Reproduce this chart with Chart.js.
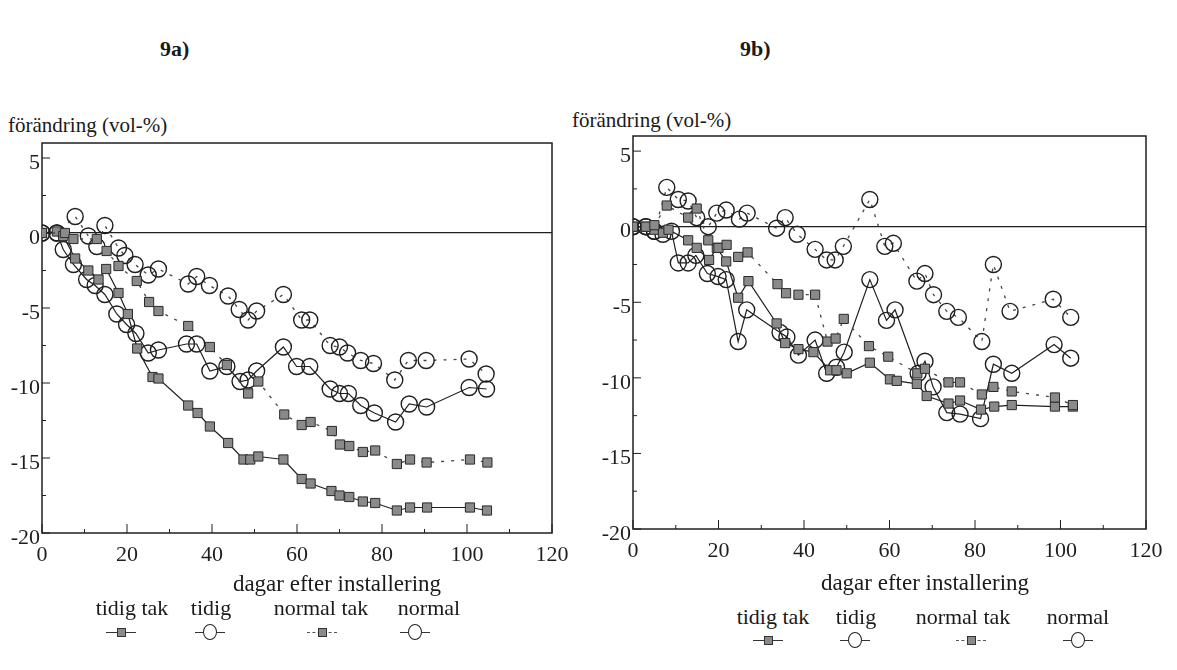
<!DOCTYPE html>
<html>
<head>
<meta charset="utf-8">
<script src="https://cdn.jsdelivr.net/npm/chart.js@4.4.1/dist/chart.umd.min.js"></script>
<style>
  body { margin:0; width:1177px; height:670px; overflow:hidden; position:relative; background:#fff;
         font-family:"Liberation Serif","DejaVu Serif","Noto Serif",Tinos,"Times New Roman",Times,serif; color:#1a1a1a; }
  .t { position:absolute; white-space:nowrap; line-height:1; }
  .c { transform:translateX(-50%); }
  canvas { position:absolute; }
  .sym { position:absolute; width:30px; height:16px; transform:translate(-50%,-50%); }
  .sym .ln { position:absolute; left:0; right:0; top:8px; border-top:1px solid #333; }
  .sym .ln.dash { border-top:1px dashed #555; }
  .sym .sq { position:absolute; left:11px; top:4px; width:7px; height:7px; background:#8a8a8a; border:1px solid #333; }
  .sym .ci { position:absolute; left:8px; top:0; width:12px; height:14px; border:1.3px solid #222; border-radius:50%; background:#fff; }
</style>
</head>
<body>

<div class="t" style="left:160px;top:38px;font-size:22px;font-weight:bold;">9a)</div>
<div class="t" style="left:740px;top:38px;font-size:22px;font-weight:bold;">9b)</div>

<div class="t" style="left:8px;top:115px;font-size:21px;">förändring (vol-%)</div>
<div class="t" style="left:572px;top:110px;font-size:21px;">förändring (vol-%)</div>

<canvas id="chart-9a" width="580" height="460" style="left:0;top:120px;"></canvas>
<canvas id="chart-9b" width="577" height="460" style="left:600px;top:115px;"></canvas>

<div class="t c" style="left:337px;top:572px;font-size:23px;">dagar efter installering</div>
<div class="t c" style="left:925px;top:571px;font-size:23px;">dagar efter installering</div>

<div id="legend"></div>

<script>
// ---- axlar ----
const xTicks = [0, 10, 20, 30, 40, 50, 60, 70, 80, 90, 100, 110, 120];
const yTicks = [-20, -17.5, -15, -12.5, -10, -7.5, -5, -2.5, 0, 2.5, 5];
const seriesNames = ['tidig tak', 'tidig', 'normal tak', 'normal'];

// ---- 9a ----
const aTidigTakDag = [0, 3.5, 5, 7.8, 10.9, 13.3, 15.1, 18, 20.2, 22.4, 26, 27.4, 34.4, 36.6, 39.5, 43.8, 47.4, 49, 50.9, 56.8, 61.1, 63.2, 68.1, 70, 72.3, 75.5, 78.4, 83.5, 86.6, 90.6, 100.7, 104.7];
const aTidigTakVal = [0, 0.1, -0.2, -1.7, -2.5, -3.1, -2.4, -4.0, -5.4, -7.7, -9.6, -9.7, -11.5, -12.0, -12.9, -14.0, -15.1, -15.1, -14.9, -15.1, -16.4, -16.7, -17.2, -17.5, -17.6, -17.9, -18.0, -18.5, -18.3, -18.3, -18.3, -18.5];

const aTidigDag = [0, 3.5, 5, 7.4, 10.5, 12.5, 14.8, 17.6, 19.9, 22.1, 25, 27.4, 34, 36.4, 39.5, 43.5, 46.6, 48.5, 50.5, 56.8, 59.9, 63, 67.8, 70, 72.1, 75, 78.2, 83.2, 86.4, 90.5, 100.5, 104.6];
const aTidigVal = [0, 0, -1.1, -2.1, -3.1, -3.5, -4.1, -5.4, -6.1, -6.7, -8.0, -7.8, -7.4, -7.4, -9.2, -8.9, -9.9, -9.8, -9.2, -7.6, -8.9, -8.9, -10.4, -10.7, -10.7, -11.5, -12.0, -12.6, -11.4, -11.6, -10.3, -10.4];

const aNormalTakDag = [0, 5.4, 7.4, 12.9, 15.2, 18, 22.3, 25.2, 27.4, 34.4, 39.5, 43.5, 48.5, 50.9, 57, 61.1, 63.2, 68.2, 70.1, 72.3, 75.5, 78.4, 83.5, 86.6, 90.5, 100.7, 104.8];
const aNormalTakVal = [0, 0, -0.4, -0.4, -1.2, -2.2, -3.2, -4.6, -5.2, -6.2, -7.6, -8.8, -10.7, -9.9, -12.1, -12.8, -12.6, -13.2, -14.1, -14.2, -14.6, -14.5, -15.4, -15.1, -15.3, -15.1, -15.3];

const aNormalDag = [0, 3.5, 7.8, 10.9, 12.9, 14.8, 18, 19.5, 21.9, 25, 27.4, 34.4, 36.4, 39.4, 43.8, 46.4, 48.5, 50.5, 56.8, 61.1, 63, 67.8, 70, 71.9, 75, 78, 83, 86.2, 90.4, 100.5, 104.5];
const aNormalVal = [0, 0, 1.1, -0.2, -0.9, 0.5, -1.0, -1.5, -2.1, -2.8, -2.4, -3.4, -2.9, -3.5, -4.2, -5.1, -5.8, -5.2, -4.1, -5.8, -5.8, -7.5, -7.6, -8.0, -8.5, -8.7, -9.8, -8.5, -8.5, -8.4, -9.4];

// ---- 9b ----
const bTidigTakDag = [0, 3, 5, 7, 8.3, 12.9, 14.9, 17.8, 19.6, 21.8, 24.6, 27, 33.6, 35.6, 38.7, 42.2, 46.1, 47.6, 50, 55.4, 60.1, 61.7, 66.4, 68.7, 73.8, 76.5, 81.4, 84.5, 88.6, 98.7, 102.9];
const bTidigTakVal = [0, 0, -0.2, -0.4, -0.2, -0.9, -1.4, -2.2, -1.4, -2.3, -4.7, -3.6, -6.4, -7.7, -8.1, -8.3, -9.5, -9.5, -9.7, -9.0, -10.1, -10.2, -10.4, -11.2, -11.7, -11.5, -12.1, -11.9, -11.8, -11.9, -11.9];

const bTidigDag = [0, 3, 5, 7, 9, 10.6, 12.9, 14.7, 17.4, 19.9, 21.8, 24.6, 26.6, 34.4, 36, 38.7, 42.6, 45.3, 47.6, 49.4, 55.4, 59.3, 61.3, 66.7, 68.3, 70.2, 73.4, 76.5, 81.3, 84.3, 88.6, 98.5, 102.4];
const bTidigVal = [0, 0, -0.3, -0.5, -0.3, -2.4, -2.4, -1.9, -3.1, -3.3, -3.5, -7.6, -5.5, -7.0, -7.3, -8.5, -7.5, -9.7, -9.3, -8.3, -3.5, -6.2, -5.5, -9.7, -8.9, -10.6, -12.3, -12.4, -12.7, -9.1, -9.7, -7.8, -8.7];

const bNormalTakDag = [0, 3, 5, 7.9, 12.9, 14.9, 17.6, 20, 21.9, 24.6, 26.8, 33.8, 35.8, 38.7, 42.6, 45.5, 47.4, 49.3, 55.2, 59.7, 66.5, 68.3, 73.8, 76.5, 81.6, 84.3, 88.6, 98.7, 102.9];
const bNormalTakVal = [0, 0, 0.1, 1.4, 0.6, 1.2, -0.9, -1.4, -1.2, -2.0, -1.7, -3.8, -4.4, -4.5, -4.5, -7.6, -7.4, -6.1, -7.9, -8.6, -9.7, -9.4, -10.3, -10.3, -11.1, -10.6, -10.9, -11.3, -11.8];

const bNormalDag = [0, 3, 5, 7.9, 10.6, 12.9, 14.9, 17.6, 19.6, 21.8, 24.9, 26.7, 33.6, 35.6, 38.4, 42.6, 45.3, 47.3, 49.2, 55.4, 58.9, 60.9, 66.4, 68.3, 70.3, 73.4, 76.1, 81.6, 84.3, 88.2, 98.3, 102.4];
const bNormalVal = [0, 0, -0.3, 2.6, 1.8, 1.7, 0.6, 0, 0.9, 1.1, 0.5, 0.9, -0.1, 0.6, -0.5, -1.5, -2.2, -2.2, -1.3, 1.8, -1.3, -1.1, -3.6, -3.1, -4.5, -5.6, -6.0, -7.6, -2.5, -5.6, -4.8, -6.0];

const INK = '#1f1f1f';
Chart.defaults.font.family = '"Liberation Serif", "DejaVu Serif", "Noto Serif", Tinos, "Times New Roman", Times, serif';
Chart.defaults.color = INK;
Chart.defaults.animation = false;

const pts = (xs, ys) => xs.map((x, i) => ({ x, y: ys[i] }));

function squareSet(label, xs, ys, dashed) {
  return {
    label, data: pts(xs, ys), showLine: true,
    borderColor: dashed ? '#444' : INK, borderWidth: dashed ? 1.3 : 1.2,
    borderDash: dashed ? [3, 7] : [],
    pointStyle: 'rect', pointRadius: 6.5, pointBorderWidth: 1,
    pointBackgroundColor: '#8a8a8a', pointBorderColor: '#2a2a2a',
  };
}
function circleSet(label, xs, ys, dashed) {
  return {
    label, data: pts(xs, ys), showLine: true,
    borderColor: dashed ? '#444' : INK, borderWidth: dashed ? 1.3 : 1.2,
    borderDash: dashed ? [3, 7] : [],
    pointStyle: 'circle', pointRadius: 8, pointBorderWidth: 1.4,
    pointBackgroundColor: 'rgba(255,255,255,0)', pointBorderColor: INK,
  };
}

// ram + inåtvända tickmarkeringar
const ramPlugin = {
  id: 'ram',
  beforeDatasetsDraw(chart) {
    const { ctx, chartArea: a, scales: { x, y } } = chart;
    ctx.save();
    ctx.strokeStyle = INK;
    ctx.lineWidth = 1.5;
    ctx.strokeRect(a.left, a.top, a.right - a.left, a.bottom - a.top);
    ctx.lineWidth = 1;
    ctx.beginPath();
    xTicks.forEach(v => {
      const px = x.getPixelForValue(v);
      const len = v % 20 === 0 ? 9 : 4;
      ctx.moveTo(px, a.bottom); ctx.lineTo(px, a.bottom - len);
    });
    yTicks.forEach(v => {
      const py = y.getPixelForValue(v);
      const len = v % 5 === 0 ? 8 : 4;
      ctx.moveTo(a.left, py); ctx.lineTo(a.left + len, py);
    });
    ctx.stroke();
    ctx.restore();
  }
};

function mkChart(id, datasets, pad, yWidth) {
  const el = document.getElementById(id);
  return new Chart(el.getContext('2d'), {
    type: 'scatter',
    data: { datasets },
    plugins: [ramPlugin],
    options: {
      responsive: false, devicePixelRatio: 1,
      layout: { padding: pad },
      plugins: { legend: { display: false }, tooltip: { enabled: false } },
      scales: {
        x: {
          type: 'linear', min: 0, max: 120,
          afterBuildTicks: s => { s.ticks = xTicks.map(v => ({ value: v })); },
          afterFit: s => { s.height = 30; },
          ticks: { autoSkip: false, maxRotation: 0, padding: 9, font: { size: 22 },
                   callback: v => (v % 20 === 0 ? String(v) : '') },
          grid: { display: false, drawTicks: false },
          border: { display: false },
        },
        y: {
          type: 'linear', min: -20, max: 6,
          afterBuildTicks: s => { s.ticks = yTicks.map(v => ({ value: v })); },
          afterFit: s => { s.width = yWidth; },
          ticks: { autoSkip: false, padding: 2, labelOffset: 5, font: { size: 22 },
                   callback: v => (v % 5 === 0 ? String(v) : '') },
          grid: { drawTicks: false, lineWidth: 1.3,
                  color: c => (c.tick && c.tick.value === 0 ? INK : 'rgba(0,0,0,0)') },
          border: { display: false },
        }
      }
    }
  });
}

mkChart('chart-9a', [
  squareSet(seriesNames[2], aNormalTakDag, aNormalTakVal, true),
  squareSet(seriesNames[0], aTidigTakDag, aTidigTakVal, false),
  circleSet(seriesNames[3], aNormalDag, aNormalVal, true),
  circleSet(seriesNames[1], aTidigDag, aTidigVal, false),
], { left: 0, top: 23, right: 28, bottom: 17 }, 42);

mkChart('chart-9b', [
  squareSet(seriesNames[2], bNormalTakDag, bNormalTakVal, true),
  squareSet(seriesNames[0], bTidigTakDag, bTidigTakVal, false),
  circleSet(seriesNames[3], bNormalDag, bNormalVal, true),
  circleSet(seriesNames[1], bTidigDag, bTidigVal, false),
], { left: 0, top: 21, right: 31, bottom: 16 }, 33);

// ---- teckenförklaring ----
const legendA = { textX: [132, 211, 321, 429], symX: [121, 210, 322, 415], textTop: 597, symY: 632 };
const legendB = { textX: [773, 856, 963, 1078], symX: [768, 855, 971, 1078], textTop: 606, symY: 640 };
const symKind = ['sq', 'ci', 'sq', 'ci'];
const symDash = [false, false, true, false];

function buildLegend(L) {
  const host = document.getElementById('legend');
  seriesNames.forEach((name, i) => {
    const t = document.createElement('div');
    t.className = 't c';
    t.style.cssText = `left:${L.textX[i]}px;top:${L.textTop}px;font-size:22px;`;
    t.textContent = name;
    host.appendChild(t);
    const s = document.createElement('div');
    s.className = 'sym';
    s.style.left = L.symX[i] + 'px';
    s.style.top = L.symY + 'px';
    s.innerHTML = `<div class="ln${symDash[i] ? ' dash' : ''}"></div><div class="${symKind[i]}"></div>`;
    host.appendChild(s);
  });
}
buildLegend(legendA);
buildLegend(legendB);
</script>
</body>
</html>
